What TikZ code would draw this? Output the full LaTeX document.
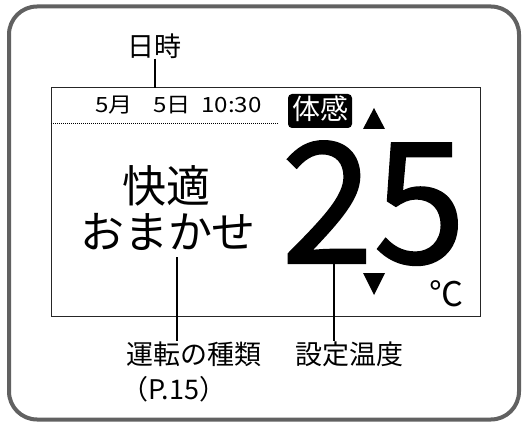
\documentclass[tikz,border=0pt]{standalone}
\usepackage{fontspec}
\setmainfont{Noto Sans CJK JP}
\newfontfamily\bignumfont[FakeBold=1.2]{Noto Sans CJK JP}
\begin{document}
\begin{tikzpicture}[x=1pt,y=-1pt,
  lbl/.style={inner sep=0pt, font=\fontsize{27}{27}\selectfont},
  leader/.style={line width=1.3pt, black},
  tri/.style={fill=black}]
\useasboundingbox (0,0) rectangle (528,425);
% outer frame
\node[draw=black!62, line width=4pt, rounded corners=28pt, minimum width=510pt, minimum height=413pt, inner sep=0pt] (frame) at (264,213) {};
% screen
\node[draw=black!85, line width=0.8pt, minimum width=429pt, minimum height=229.5pt, inner sep=0pt] (screen) at (265.5,201.75) {};
% date line
\node[inner sep=0pt, font=\fontsize{21}{21}\selectfont, anchor=base west, text height=16pt, text depth=0pt] (date) at (95,113) {\scalebox{1.15}[1]{5月\hspace{18pt}5日\hspace{9pt}10:30}};
\coordinate (dotL) at (51,123);
\coordinate (dotR) at (278,123);
\draw[line width=0.9pt, dash pattern=on 1pt off 1pt] (dotL) -- (dotR);
% taikan
\node[fill=black, rounded corners=4pt, minimum width=64pt, minimum height=34pt, inner sep=0pt, text=white, font=\fontsize{28}{28}\selectfont, text height=22pt, text depth=4pt] (taikan) at (320,111) {体感};
% triangles
\fill[tri] (363,129) -- (385,129) -- (374,108) -- cycle;
\fill[tri] (363,273) -- (385,273) -- (374,295) -- cycle;
% temperature
\node[inner sep=0pt, font=\fontsize{168}{168}\bignumfont, anchor=base, text height=123pt, text depth=0pt] (temp) at (373.5,263) {\scalebox{0.99}[1]{25}};
\node[inner sep=0pt, font=\fontsize{34}{34}\selectfont, anchor=base, text height=30pt, text depth=0pt] (deg) at (446,306) {℃};
% mode
\node[inner sep=0pt, font=\fontsize{44}{44}\selectfont] (mode1) at (166,186) {快適};
\node[inner sep=0pt, font=\fontsize{44}{44}\selectfont] (mode2) at (168,232) {おまかせ};
% labels
\node[lbl] (nichiji) at (154,46) {日時};
\node[lbl] (unten) at (194,354) {運転の種類};
\node[lbl, anchor=west] (page) at (121,389) {（P.15）};
\node[lbl] (settei) at (349,354) {設定温度};
% leaders
\coordinate (c1) at (155,88);
\coordinate (c2) at (177,257);
\coordinate (c3) at (334,262);
\draw[leader] (nichiji.south -| c1) -- (c1);
\draw[leader] (c2) -- (unten.north -| c2);
\draw[leader] (c3) -- (settei.north -| c3);
\end{tikzpicture}
\end{document}
